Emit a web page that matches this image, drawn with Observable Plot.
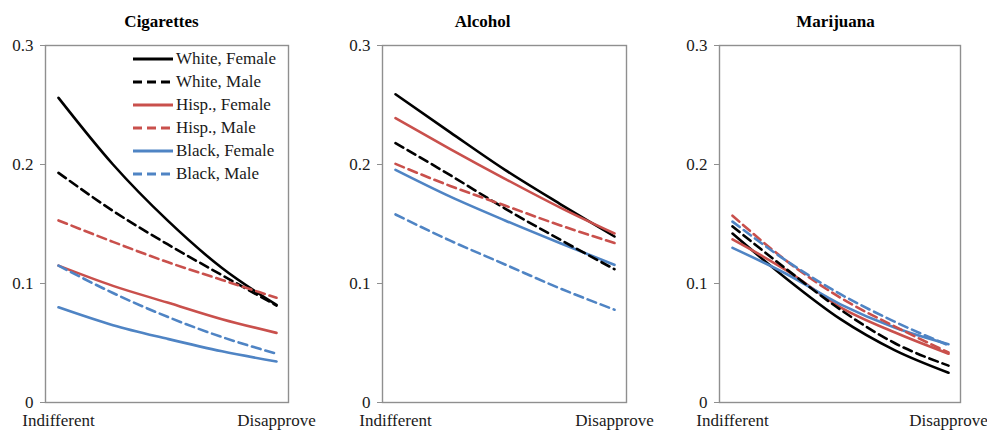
<!DOCTYPE html>
<html><head><meta charset="utf-8">
<script src="https://cdn.jsdelivr.net/npm/d3@7"></script>
<script src="https://cdn.jsdelivr.net/npm/@observablehq/plot@0.6"></script>
<style>
body{margin:0;background:#fff;font-family:"Liberation Serif","DejaVu Serif","Times New Roman",serif;color:#1a1a1a;}
#wrap{position:relative;width:987px;height:432px;display:flex;overflow:hidden;}
#wrap svg{overflow:visible;}
#wrap svg text{font-family:"Liberation Serif","DejaVu Serif","Times New Roman",serif !important;}
#legend{position:absolute;left:133px;top:47px;font-size:17px;line-height:23px;}
.row{display:flex;align-items:center;height:23px;white-space:nowrap;}
.row svg{margin-right:3px;}
</style></head><body>
<div id="wrap"><div id="legend"></div></div>
<script>
const substances = ["Cigarettes", "Alcohol", "Marijuana"];
const groups = ["White, Female", "White, Male", "Hisp., Female", "Hisp., Male", "Black, Female", "Black, Male"];
const groupColors = ["#000000", "#000000", "#c9504c", "#c9504c", "#4f84c4", "#4f84c4"];
const groupDashed = [false, true, false, true, false, true];
const xPositions = [0, 0.25, 0.5, 0.75, 1];
const xTickValues = [0, 1];
const xTickLabels = ["Indifferent", "Disapprove"];
const yTicks = [0, 0.1, 0.2, 0.3];

// values per group (order of groups) at xPositions
const cigarettes = [
  [0.256, 0.200, 0.153, 0.113, 0.082],
  [0.193, 0.161, 0.133, 0.107, 0.0815],
  [0.115, 0.098, 0.084, 0.070, 0.0585],
  [0.153, 0.135, 0.118, 0.103, 0.088],
  [0.080, 0.065, 0.0535, 0.043, 0.0345],
  [0.115, 0.092, 0.072, 0.055, 0.041]
];
const alcohol = [
  [0.259, 0.227, 0.1955, 0.167, 0.1395],
  [0.218, 0.191, 0.163, 0.137, 0.112],
  [0.239, 0.213, 0.188, 0.164, 0.142],
  [0.2005, 0.182, 0.1655, 0.149, 0.134],
  [0.1955, 0.173, 0.153, 0.134, 0.1157],
  [0.158, 0.136, 0.116, 0.096, 0.078]
];
const marijuana = [
  [0.142, 0.104, 0.070, 0.044, 0.025],
  [0.148, 0.112, 0.078, 0.050, 0.031],
  [0.137, 0.111, 0.080, 0.059, 0.041],
  [0.157, 0.119, 0.088, 0.064, 0.042],
  [0.130, 0.108, 0.0825, 0.063, 0.049],
  [0.152, 0.119, 0.091, 0.068, 0.048]
];
const seriesBySubstance = [cigarettes, alcohol, marijuana];

const panelLayout = [
  {width: 329, marginLeft: 45, marginRight: 41, titleDx: -5.5},
  {width: 329, marginLeft: 53, marginRight: 32, titleDx: -22},
  {width: 329, marginLeft: 61, marginRight: 27, titleDx: -4.5}
];

const fontStack = "'Liberation Serif', 'DejaVu Serif', 'Times New Roman', serif";
const wrap = document.getElementById("wrap");
const legend = document.getElementById("legend");

substances.forEach((name, si) => {
  const rows = [];
  seriesBySubstance[si].forEach((vals, gi) => {
    vals.forEach((v, xi) => rows.push({group: groups[gi], gi, x: xPositions[xi], y: v}));
  });
  const L = panelLayout[si];
  const lineOpts = {x: "x", y: "y", z: "group", stroke: "group", curve: "monotone-x", strokeWidth: 2.6};
  const chart = Plot.plot({
    width: L.width, height: 432,
    marginLeft: L.marginLeft, marginRight: L.marginRight, marginTop: 45, marginBottom: 30,
    style: {fontFamily: fontStack, fontSize: "17px", background: "transparent", color: "#1a1a1a"},
    x: {domain: [0, 1], insetLeft: 13, insetRight: 12, axis: null},
    y: {domain: [0, 0.3], axis: null},
    color: {domain: groups, range: groupColors},
    marks: [
      Plot.frame({stroke: "#8f8f8f", strokeWidth: 1.4}),
      Plot.axisY(yTicks, {tickSize: 5, tickPadding: 7, stroke: "#8f8f8f", fontSize: 17, label: null,
        tickFormat: d => d === 0 ? "0" : d.toFixed(1)}),
      Plot.axisX(xTickValues, {tickSize: 0, tickPadding: 11, fontSize: 17, label: null,
        tickFormat: d => xTickLabels[xTickValues.indexOf(d)]}),
      Plot.line(rows.filter(r => !groupDashed[r.gi]), lineOpts),
      Plot.line(rows.filter(r => groupDashed[r.gi]), {...lineOpts, strokeDasharray: "9,5"}),
      Plot.text([name], {frameAnchor: "top", lineAnchor: "middle", dy: -24, dx: L.titleDx,
        fontWeight: "bold", fontSize: 17, fill: "#000"})
    ]
  });
  wrap.insertBefore(chart, legend);
});

groups.forEach((g, i) => {
  const row = document.createElement("div");
  row.className = "row";
  const ns = "http://www.w3.org/2000/svg";
  const s = document.createElementNS(ns, "svg");
  s.setAttribute("width", 40); s.setAttribute("height", 10);
  const ln = document.createElementNS(ns, "line");
  ln.setAttribute("x1", 0); ln.setAttribute("x2", 40);
  ln.setAttribute("y1", 5); ln.setAttribute("y2", 5);
  ln.setAttribute("stroke", groupColors[i]);
  ln.setAttribute("stroke-width", 2.8);
  if (groupDashed[i]) ln.setAttribute("stroke-dasharray", "9,5");
  s.appendChild(ln);
  row.appendChild(s);
  const t = document.createElement("span");
  t.textContent = g;
  row.appendChild(t);
  legend.appendChild(row);
});
</script>
</body></html>
